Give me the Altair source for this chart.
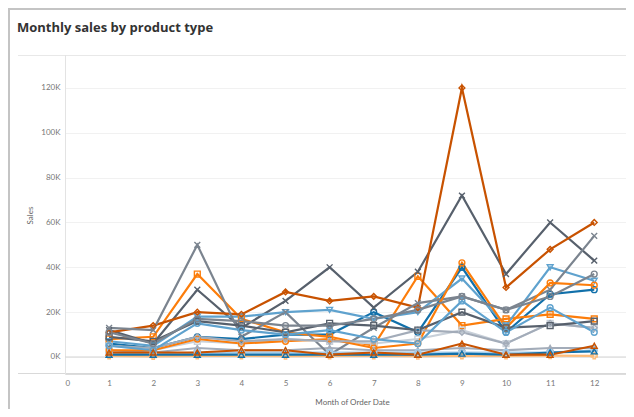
import altair as alt
import pandas as pd

TITLE = "Monthly sales by product type"
X_TITLE = "Month of Order Date"
Y_TITLE = "Sales"
MONTHS = [1, 2, 3, 4, 5, 6, 7, 8, 9, 10, 11, 12]
X_TICKS = [0, 1, 2, 3, 4, 5, 6, 7, 8, 9, 10, 11, 12]
Y_TICKS = [0, 20000, 40000, 60000, 80000, 100000, 120000]

SERIES = ["Accessories", "Appliances", "Art", "Binders", "Bookcases", "Chairs",
          "Copiers", "Envelopes", "Fasteners", "Furnishings", "Labels", "Machines",
          "Paper", "Phones", "Storage", "Supplies", "Tables"]
COLORS = ["#1170aa", "#fc7d0b", "#a3acb9", "#57606c", "#5fa2ce", "#c85200",
          "#7b848f", "#a3cce9", "#ffbc79", "#c8d0d9", "#1170aa", "#fc7d0b",
          "#a3acb9", "#57606c", "#5fa2ce", "#c85200", "#7b848f"]
XSHAPE = "M-1,-1L1,1M1,-1L-1,1"
SHAPES = ["circle", "square", "triangle-up", XSHAPE, "triangle-down", "diamond",
          XSHAPE, "circle", "cross", "square", "triangle-up", "circle",
          "diamond", "square", "circle", "triangle-up", "circle"]

# monthly sales, thousands
accessories = [6, 4, 9, 8, 10, 10, 20, 11, 40, 11, 28, 30]
appliances = [8, 9, 37, 17, 11, 9, 5, 36, 14, 17, 19, 17]
art = [3, 2, 4, 3, 3, 4, 3, 3, 4, 3, 4, 4]
binders = [12, 6, 30, 13, 25, 40, 22, 38, 72, 37, 60, 43]
bookcases = [7, 5, 18, 18, 20, 21, 17, 20, 35, 14, 40, 34]
chairs = [11, 14, 20, 19, 29, 25, 27, 22, 120, 31, 48, 60]
copiers = [13, 12, 50, 9, 20, 1, 13, 24, 27, 21, 30, 54]
envelopes = [2, 1, 2, 2, 2, 2, 2, 2, 2, 2, 2, 3]
fasteners = [0.5, 0.3, 0.5, 0.5, 0.4, 0.5, 0.5, 0.4, 0.5, 0.5, 0.6, 0.5]
furnishings = [5, 3, 7, 6, 8, 7, 6, 8, 12, 6, 15, 13]
labels = [1, 1, 1, 1, 1, 1, 1, 1, 1.5, 1, 2, 2.5]
machines = [3, 3, 8, 6, 7, 8, 4, 6, 42, 13, 33, 32]
paper = [5, 4, 9, 7, 8, 7, 7, 12, 11, 6, 15, 13]
phones = [9, 7, 16, 14, 11, 15, 14, 12, 20, 13, 14, 16]
storage = [5, 3, 15, 12, 10, 12, 8, 6, 25, 11, 22, 11]
supplies = [2, 2, 2, 3, 3, 1, 2, 1, 6, 1, 1, 5]
tables = [11, 6, 17, 16, 14, 14, 17, 21, 27, 21, 27, 37]

VALUES = [accessories, appliances, art, binders, bookcases, chairs, copiers,
          envelopes, fasteners, furnishings, labels, machines, paper, phones,
          storage, supplies, tables]

rows = []
for name, vals in zip(SERIES, VALUES):
    for m, v in zip(MONTHS, vals):
        rows.append({"Sub-Category": name, "Month": m, "Sales": v * 1000})
df = pd.DataFrame(rows)

W, H = 561, 319
FONT = "Lato"

xs = alt.X("Month:Q", scale=alt.Scale(domain=[0, 12.72], nice=False, zero=False),
           axis=alt.Axis(values=X_TICKS, title=X_TITLE, domain=False, ticks=False, grid=False,
                         labelFontSize=8, labelColor="#777", labelPadding=5,
                         titleFontSize=8, titleFontWeight="normal", titleColor="#666",
                         titleX=287, titleY=28, titleBaseline="middle", labelFont=FONT, titleFont=FONT))
ys = alt.Y("Sales:Q", scale=alt.Scale(domain=[-7600, 134700], nice=False, zero=False),
           axis=alt.Axis(values=Y_TICKS, title=Y_TITLE, domain=False, ticks=False, grid=True,
                         gridColor="#f1f1f1", labelExpr="format(datum.value/1000, 'd') + 'K'",
                         labelFontSize=8, labelColor="#777", labelPadding=5,
                         titleFontSize=8, titleFontWeight="normal", titleColor="#666",
                         titleX=-35, titleY=160, titleAngle=270, titleBaseline="middle",
                         labelFont=FONT, titleFont=FONT))
color = alt.Color("Sub-Category:N", scale=alt.Scale(domain=SERIES, range=COLORS), legend=None)
shape = alt.Shape("Sub-Category:N", scale=alt.Scale(domain=SERIES, range=SHAPES), legend=None)

base = alt.Chart(df)
lines = base.mark_line(strokeWidth=2.2, strokeMiterLimit=20).encode(x=xs, y=ys, color=color)
points = base.mark_point(filled=False, size=34, strokeWidth=1.4, opacity=1).encode(
    x=xs, y=ys, color=color, shape=shape)

one = pd.DataFrame({"Sales": [0]})
zero_line = alt.Chart(one).mark_rule(color="#d6d6d6", strokeWidth=1).encode(y=alt.Y("Sales:Q", title=Y_TITLE))

deco = alt.Chart(pd.DataFrame({"k": [0]}))
top_pane = deco.mark_rule(color="#e8e8e8", strokeWidth=1).encode(
    x=alt.value(-47), x2=alt.value(W), y=alt.value(0.5))
x_axis_line = deco.mark_rule(color="#d9d9d9", strokeWidth=1).encode(
    x=alt.value(-47), x2=alt.value(W), y=alt.value(H - 0.5))
y_axis_line = deco.mark_rule(color="#e3e3e3", strokeWidth=1).encode(
    x=alt.value(0.5), y=alt.value(0), y2=alt.value(H))
frame_top = deco.mark_rule(color="#c4c4c4", strokeWidth=2).encode(
    x=alt.value(-57), x2=alt.value(W), y=alt.value(-46))
frame_left = deco.mark_rule(color="#c4c4c4", strokeWidth=2).encode(
    x=alt.value(-56), y=alt.value(-47), y2=alt.value(H + 35))

title = alt.Chart(pd.DataFrame({"t": [TITLE]})).mark_text(
    align="left", baseline="middle", fontSize=13, fontWeight="bold", font="Open Sans", color="#333"
).encode(text="t:N", x=alt.value(-48), y=alt.value(-27))

chart = alt.layer(
    top_pane, x_axis_line, y_axis_line, zero_line, lines, points, frame_top, frame_left, title
).properties(
    width=W, height=H,
    autosize=alt.AutoSizeParams(type="none"),
    padding={"left": 57, "top": 47, "right": 0, "bottom": 35},
).configure_view(stroke=None).configure(background="white")

chart.save("out.html", embed_options={"renderer": "svg", "actions": False})
